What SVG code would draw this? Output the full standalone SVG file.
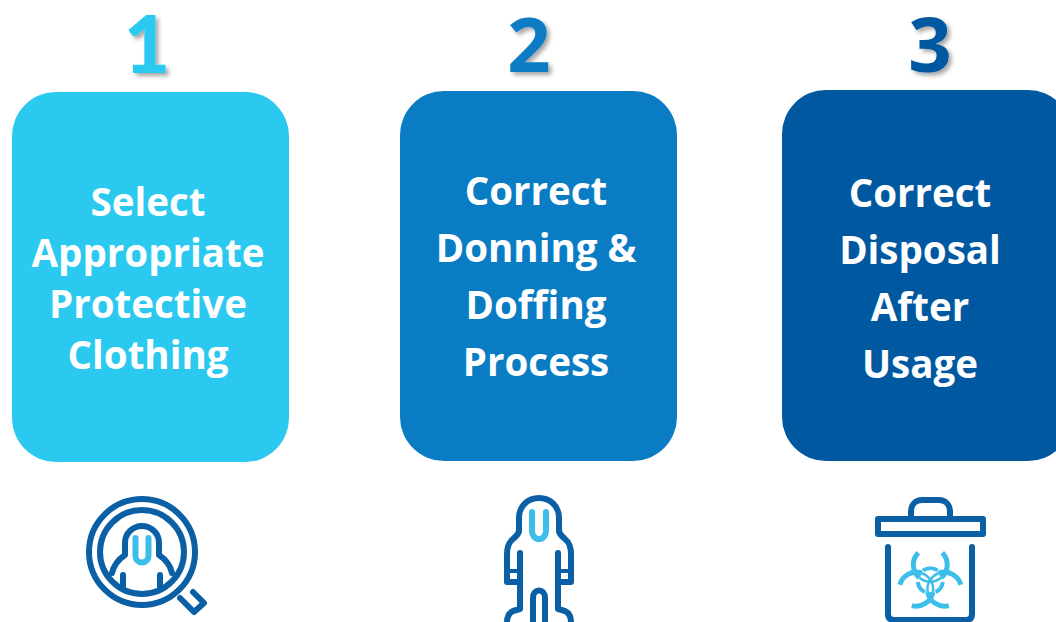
<svg xmlns="http://www.w3.org/2000/svg" width="1056" height="622" viewBox="0 0 1056 622">
<defs>
<filter id="sh" x="-30%" y="-30%" width="170%" height="170%"><feDropShadow dx="3" dy="3" stdDeviation="2" flood-color="#000" flood-opacity="0.35"/></filter>
<g id="cres" fill="none" stroke="#3cbdea">
<path stroke-width="5" d="M942.300 552.700A17 17 0 0 1 941.200 577.700M918.300 552.700A17 17 0 0 0 919.400 577.700"/>
<path stroke-width="2.500" d="M941.200 577.700A17 17 0 0 1 919.400 577.700"/>
</g>
</defs>
<style>
.num{font-family:"Open Sans","Liberation Sans",sans-serif;font-weight:700;font-size:76px;text-anchor:middle;filter:url(#sh)}
.lab{font-family:"Open Sans","Liberation Sans",sans-serif;font-weight:700;font-size:38.5px;fill:#fff;text-anchor:middle}
.d{fill:none;stroke:#0b5fa5;stroke-width:6;stroke-linecap:round;stroke-linejoin:round}
.l{fill:none;stroke:#3cbdea;stroke-width:6;stroke-linecap:round;stroke-linejoin:round}
</style>
<rect width="1056" height="622" fill="#fff"/>
<g id="step1">
<text class="num" x="147" y="73" fill="#2bc9f0" style="font-family:Lato,'Open Sans',sans-serif;font-weight:900;font-size:80px">1</text>
<rect x="12" y="92" width="277" height="370" rx="44" fill="#2bc9f0"/>
<text class="lab" x="148" y="216">Select</text>
<text class="lab" x="148" y="267">Appropriate</text>
<text class="lab" x="148" y="318">Protective</text>
<text class="lab" x="148" y="369">Clothing</text>
</g>
<g id="step2">
<text class="num" x="529" y="72" fill="#0a7cc4">2</text>
<rect x="400" y="91" width="277" height="370" rx="44" fill="#0a7cc4"/>
<text class="lab" x="536" y="205">Correct</text>
<text class="lab" x="536" y="262">Donning &amp;</text>
<text class="lab" x="536" y="319">Doffing</text>
<text class="lab" x="536" y="376">Process</text>
</g>
<g id="step3">
<text class="num" x="930" y="72" fill="#0059a0">3</text>
<rect x="782" y="90" width="290" height="371" rx="44" fill="#0059a0"/>
<text class="lab" x="920" y="207">Correct</text>
<text class="lab" x="920" y="264">Disposal</text>
<text class="lab" x="920" y="321">After</text>
<text class="lab" x="920" y="378">Usage</text>
</g>
<g id="icon1">
<circle class="d" cx="142" cy="552" r="53"/>
<circle class="d" cx="142" cy="552" r="42"/>
<path class="d" d="M112 573C114 564 119 559 125 555V543C125 533 133 526 142 526S159 533 159 543V555C165 559 170 564 172 573"/>
<path class="d" d="M123 575V587M160 575V587"/>
<path class="l" d="M135.500 538V556A6.500 6.500 0 0 0 148.500 556V538"/>
<path class="d" d="M180 598L194 612L204 603L193 592"/>
</g>
<g id="icon2">
<path class="d" d="M519 530V518C519 506 528 498 539 498S559 506 559 518V530"/>
<path class="d" d="M519 530C519 535 516 536 513 539C508 543 507 548 507 554V582H520M559 530C559 535 562 536 565 539C570 543 571 548 571 554V582H558"/>
<path class="d" d="M520 553V608M558 553V608"/>
<path d="M508 571H520M558 571H570" fill="none" stroke="#0b5fa5" stroke-width="4"/>
<path class="d" d="M533 622V598C533 588 545 588 545 598V622"/>
<path class="d" d="M520 609L513 611C509 613 507 617 507 622M558 609L565 611C569 613 571 617 571 622"/>
<path class="l" d="M532 512V531A7 8 0 0 0 546 531V512"/>
</g>
<g id="icon3">
<rect class="d" x="878" y="519" width="105" height="15"/>
<path class="d" d="M911 518V512C911 504 916 500 922 500H939C945 500 950 504 950 512V518"/>
<path class="d" d="M888 547V614C888 618 890 620 894 620H966C970 620 972 618 972 614V547"/>
<use href="#cres"/>
<use href="#cres" transform="rotate(120 930.300 581)"/>
<use href="#cres" transform="rotate(240 930.300 581)"/>
<path d="M923 570.500A12.500 12.500 0 0 1 937.600 570.500M917.800 582A12.500 12.500 0 0 0 925 592M942.800 582A12.500 12.500 0 0 1 935.600 592" fill="none" stroke="#3cbdea" stroke-width="4"/>
</g>
</svg>
